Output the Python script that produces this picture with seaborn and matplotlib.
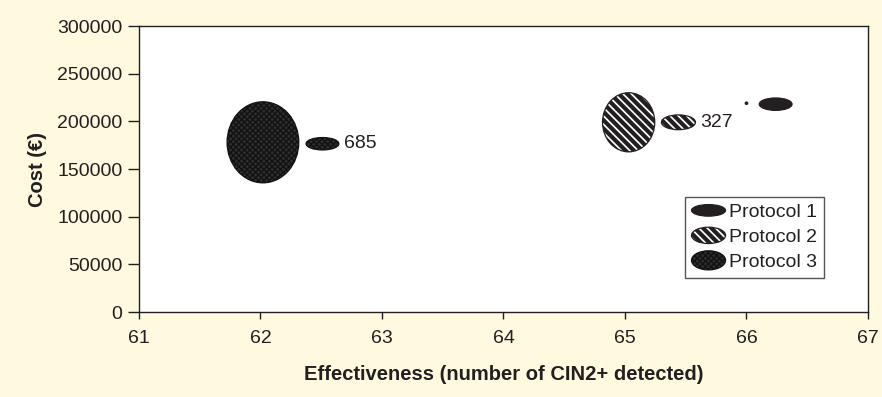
import matplotlib
matplotlib.use("Agg")
import matplotlib.pyplot as plt
import seaborn as sns
from matplotlib.patches import Ellipse
from matplotlib.legend_handler import HandlerPatch

# values (centre and spread of each cloud)
protocols = ["Protocol 1", "Protocol 2", "Protocol 3"]
big_x = [66.24, 65.03, 62.02]
big_y = [218000, 199000, 178000]
big_w = [0.27, 0.43, 0.59]
big_h = [13000, 62000, 85000]
small_x = [66.00, 65.44, 62.51]
small_y = [219000, 199000, 176500]
small_w = [0.02, 0.28, 0.27]
small_h = [2500, 15500, 13000]
small_labels = ["", "327", "685"]

x_ticks = [61, 62, 63, 64, 65, 66, 67]
y_ticks = [0, 50000, 100000, 150000, 200000, 250000, 300000]

BG = "#FFF9E0"
INK = "#231F20"
styles = {
    "Protocol 1": dict(facecolor=INK, edgecolor=INK, hatch=None, hlw=1.0),
    "Protocol 2": dict(facecolor="white", edgecolor=INK, hatch="\\\\\\\\", hlw=3.0),
    "Protocol 3": dict(facecolor="#2e2e2e", edgecolor="#111111", hatch="xxxxxx", hlw=0.9),
}


def make_ellipse(xy, w, h, name):
    st = styles[name]
    with plt.rc_context({"hatch.linewidth": st["hlw"]}):
        e = Ellipse(xy, w, h, facecolor=st["facecolor"], edgecolor=st["edgecolor"],
                    hatch=st["hatch"], linewidth=0.9)
    return e


class HandlerEllipse(HandlerPatch):
    def create_artists(self, legend, orig_handle, xdescent, ydescent, width, height, fontsize, trans):
        center = 0.5 * width - 0.5 * xdescent, 0.5 * height - 0.5 * ydescent
        scale = {"Protocol 1": 0.85, "Protocol 2": 1.2, "Protocol 3": 1.4}[orig_handle.get_label()]
        p = make_ellipse(center, width, height * scale, orig_handle.get_label())
        p.set_transform(trans)
        return [p]


sns.set_theme(style="ticks")
plt.rcParams["font.family"] = ["Liberation Sans", "DejaVu Sans"]
plt.rcParams["text.color"] = INK
plt.rcParams["axes.labelcolor"] = INK
plt.rcParams["xtick.color"] = INK
plt.rcParams["ytick.color"] = INK

fig = plt.figure(figsize=(8.82, 3.97), dpi=100, facecolor=BG)
ax = fig.add_axes([0.1576, 0.2141, 0.8265, 0.7204])
ax.set_facecolor("white")

handles = []
for i, name in enumerate(protocols):
    ax.add_patch(make_ellipse((big_x[i], big_y[i]), big_w[i], big_h[i], name))
    ax.add_patch(make_ellipse((small_x[i], small_y[i]), small_w[i], small_h[i], name))
    if small_labels[i]:
        ax.text(small_x[i] + small_w[i] / 2 + 0.04, small_y[i], small_labels[i],
                fontsize=14, ha="left", va="center")
    proxy = make_ellipse((0, 0), 1, 1, name)
    proxy.set_label(name)
    handles.append(proxy)

ax.set_xlim(61, 67)
ax.set_ylim(0, 300000)
ax.set_xticks(x_ticks)
ax.set_yticks(y_ticks)
ax.tick_params(axis="x", direction="out", length=5, width=1, labelsize=14, pad=8)
ax.tick_params(axis="y", direction="out", length=8, width=1, labelsize=14, pad=4)
for sp in ax.spines.values():
    sp.set_color(INK)
    sp.set_linewidth(1)
    sp.set_visible(True)

ax.set_xlabel("Effectiveness (number of CIN2+ detected)", fontsize=14.5, fontweight="bold", labelpad=13)
ax.set_ylabel("Cost (€)", fontsize=14.5, fontweight="bold", labelpad=7)

leg = ax.legend(handles=handles, handler_map={Ellipse: HandlerEllipse()},
                loc="lower right", bbox_to_anchor=(0.94, 0.119), borderaxespad=0,
                fontsize=14, fancybox=False, framealpha=1, edgecolor="#555555",
                handlelength=1.75, handleheight=0.7, handletextpad=0.2,
                labelspacing=0.38, borderpad=0.35)
leg.get_frame().set_linewidth(1)

fig.savefig("out.png", dpi=100, facecolor=BG)
